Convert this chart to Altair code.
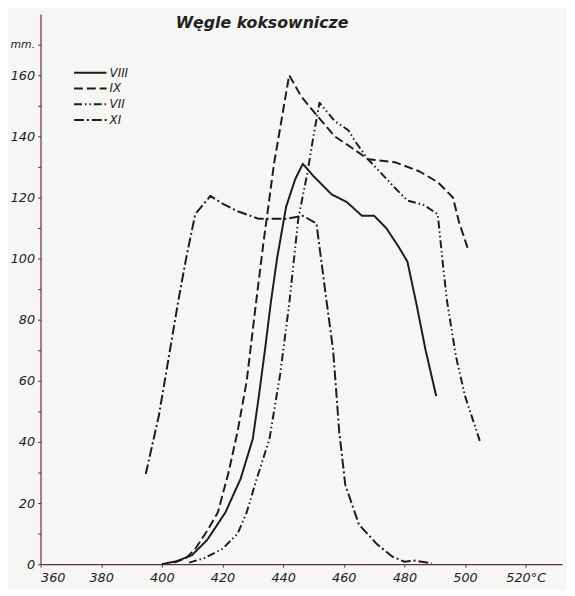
import altair as alt
import pandas as pd

# ---- data ----
series_names = ["VIII", "IX", "VII", "XI"]

viii_t = [400, 405, 410, 415, 421, 426, 430, 432, 434, 436, 438, 441, 444, 446.5, 450, 456, 461, 466, 470, 474, 478, 481, 484, 487, 490.5]
viii_v = [0, 1, 3, 8, 17, 28, 41, 55, 70, 86, 100, 117, 126, 131, 127, 121, 118.5, 114, 114, 110, 104, 99, 85, 70, 55]

ix_t = [404, 408, 411, 415, 418.5, 422, 425, 428, 431, 433.5, 437, 442, 446, 451, 457, 463, 468, 477, 485, 491, 496, 498, 501]
ix_v = [0.5, 2, 5, 11, 17, 30, 43.5, 60, 85, 105, 131, 160, 153, 147, 140, 136, 132.5, 131.5, 128.5, 125, 120, 112, 103]

vii_t = [409, 414, 420, 425, 428, 431, 435.5, 439, 442, 445, 448, 450, 452, 457, 461.5, 464, 468, 477, 481, 486.5, 491, 492.5, 494, 497, 500, 505]
vii_v = [0.5, 2, 5, 10, 17, 27, 41, 62, 85, 113, 128, 140, 151, 145, 142, 138, 132.5, 123, 119, 117.5, 114.5, 100, 86.5, 68, 55, 40]

xi_t = [394.7, 399, 402, 405.5, 408, 411, 416, 420, 425, 432, 441, 446.5, 451, 452.5, 454, 456.5, 458.5, 460.5, 465, 471, 476, 480, 483, 489]
xi_v = [29.5, 48.5, 66, 86.5, 100, 114.5, 120.5, 118, 115.5, 113, 113, 114, 111.5, 100, 88.5, 70, 43.5, 26, 13, 6.5, 2.5, 0.8, 1.2, 0.3]

x_ticks = [360, 380, 400, 420, 440, 460, 480, 500, 520]
y_ticks = [0, 10, 20, 30, 40, 50, 60, 70, 80, 90, 100, 110, 120, 130, 140, 150, 160, 170]

rows = []
for name, ts, vs in [("VIII", viii_t, viii_v), ("IX", ix_t, ix_v), ("VII", vii_t, vii_v), ("XI", xi_t, xi_v)]:
    for i, (t, v) in enumerate(zip(ts, vs)):
        rows.append({"series": name, "t": t, "v": v, "order": i})
df = pd.DataFrame(rows)

dash_range = [[1, 0], [9, 4], [8, 3, 1.5, 3, 1.5, 3], [10, 3, 2, 3]]

FONT = "DejaVu Sans"
AXIS_COLOR = "#5e2f48"
INK = "#1c1c1c"

chart = alt.Chart(df).mark_line(color=INK, strokeWidth=2, strokeJoin="round").encode(
    x=alt.X("t:Q",
            scale=alt.Scale(domain=[360, 532], nice=False, zero=False),
            axis=alt.Axis(values=x_ticks, title=None, grid=False,
                          labelExpr="datum.value == 520 ? '520°C' : datum.value",
                          labelFont=FONT, labelFontStyle="italic", labelFontSize=13,
                          labelColor=INK, labelPadding=5, tickSize=3,
                          tickColor=AXIS_COLOR, domainColor=AXIS_COLOR, domainWidth=1.2,
                          labelOverlap=False)),
    y=alt.Y("v:Q",
            scale=alt.Scale(domain=[0, 180], nice=False),
            axis=alt.Axis(values=y_ticks, title=None, grid=False,
                          labelExpr="datum.value == 170 ? 'mm.' : (datum.value % 20 == 0 ? datum.value : '')",
                          labelFont=FONT, labelFontStyle="italic",
                          labelFontSize={"condition": {"test": "datum.value == 170", "value": 11}, "value": 13},
                          labelColor=INK, labelPadding=3, tickSize=3,
                          tickColor=AXIS_COLOR, domainColor=AXIS_COLOR, domainWidth=1.2,
                          labelOverlap=False)),
    strokeDash=alt.StrokeDash("series:N",
                              scale=alt.Scale(domain=series_names, range=dash_range),
                              legend=alt.Legend(title=None, orient="none", legendX=41, legendY=50,
                                                symbolType="M-2,0H2", symbolSize=272,
                                                symbolStrokeWidth=2, symbolStrokeColor=INK,
                                                labelFont=FONT, labelFontStyle="italic",
                                                labelFontSize=12, labelColor=INK,
                                                labelOffset=10, rowPadding=-0.3, padding=0)),
    order="order:Q",
).properties(
    width=529,
    height=558,
    autosize=alt.AutoSizeParams(type="none"),
    padding={"left": 33, "top": 2, "right": 5, "bottom": 22},
    background="#f6f6f5",
    title=alt.TitleParams("Węgle koksownicze", anchor="start", dx=168, offset=-17,
                          font=FONT, fontStyle="italic", fontWeight="bold",
                          fontSize=16, color="#222222"),
).configure_view(stroke=None)

chart.save("out.html", embed_options={"renderer": "svg", "actions": False})
